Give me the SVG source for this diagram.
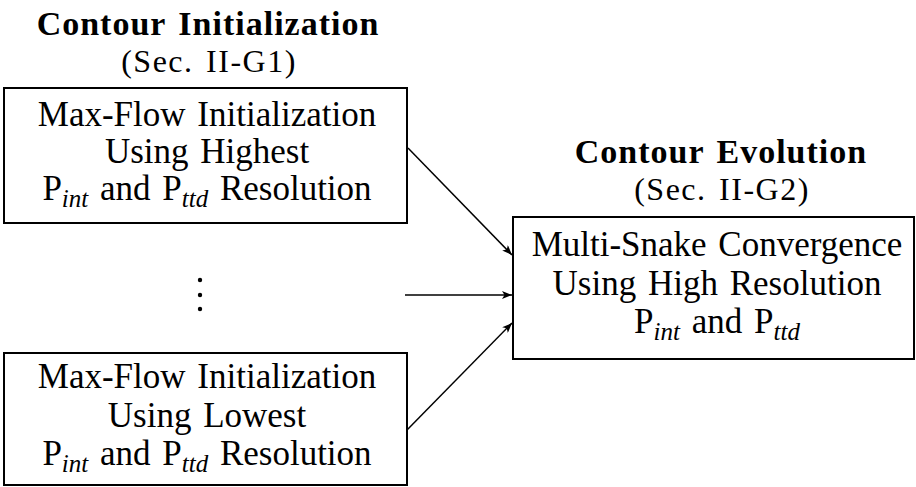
<svg xmlns="http://www.w3.org/2000/svg" width="916" height="487" viewBox="0 0 916 487">
<style>
text{font-family:"Liberation Serif","Times New Roman",serif;font-size:35px;fill:#000;text-anchor:middle;word-spacing:3px}
.b{font-weight:bold;font-size:34px;letter-spacing:1px}
.sub{font-size:32px;letter-spacing:1.5px}
.s{font-style:italic;font-size:25px;word-spacing:0}
.box{fill:#fff;stroke:#000;stroke-width:2}
.c{stroke:#000;stroke-width:1.5;fill:none;marker-end:url(#ah)}
</style>
<defs>
<marker id="ah" viewBox="0 0 10 8" refX="10" refY="4" markerWidth="11" markerHeight="8" markerUnits="userSpaceOnUse" orient="auto">
<path d="M0,0 L10,4 L0,8 L2.5,4 Z" fill="#000"/>
</marker>
</defs>
<g id="init-title">
<text class="b" x="208" y="35">Contour Initialization</text>
<text class="sub" x="209" y="72">(Sec. II-G1)</text>
</g>
<g id="init-high">
<rect class="box" x="4" y="88" width="403" height="135"/>
<text x="207" y="126">Max-Flow Initialization</text>
<text x="207" y="163">Using Highest</text>
<text x="207" y="200">P<tspan class="s" dy="7">int</tspan><tspan dy="-7"> and P</tspan><tspan class="s" dy="7">ttd</tspan><tspan dy="-7"> Resolution</tspan></text>
</g>
<g id="ellipsis">
<circle cx="200" cy="280" r="2.2"/>
<circle cx="200" cy="295" r="2.2"/>
<circle cx="200" cy="309" r="2.2"/>
</g>
<g id="init-low">
<rect class="box" x="4" y="353" width="403" height="132"/>
<text x="207" y="388">Max-Flow Initialization</text>
<text x="207" y="427">Using Lowest</text>
<text x="207" y="465">P<tspan class="s" dy="7">int</tspan><tspan dy="-7"> and P</tspan><tspan class="s" dy="7">ttd</tspan><tspan dy="-7"> Resolution</tspan></text>
</g>
<g id="evo-title">
<text class="b" x="721" y="163">Contour Evolution</text>
<text class="sub" x="722" y="200">(Sec. II-G2)</text>
</g>
<g id="evolution">
<rect class="box" x="513" y="217" width="401" height="142"/>
<text x="717" y="256">Multi-Snake Convergence</text>
<text x="717" y="295">Using High Resolution</text>
<text x="717" y="333">P<tspan class="s" dy="7">int</tspan><tspan dy="-7"> and P</tspan><tspan class="s" dy="7">ttd</tspan></text>
</g>
<g id="connectors">
<line class="c" x1="408" y1="148" x2="512" y2="255"/>
<line class="c" x1="405" y1="295" x2="512" y2="295"/>
<line class="c" x1="407" y1="430" x2="512" y2="323"/>
</g>
</svg>
